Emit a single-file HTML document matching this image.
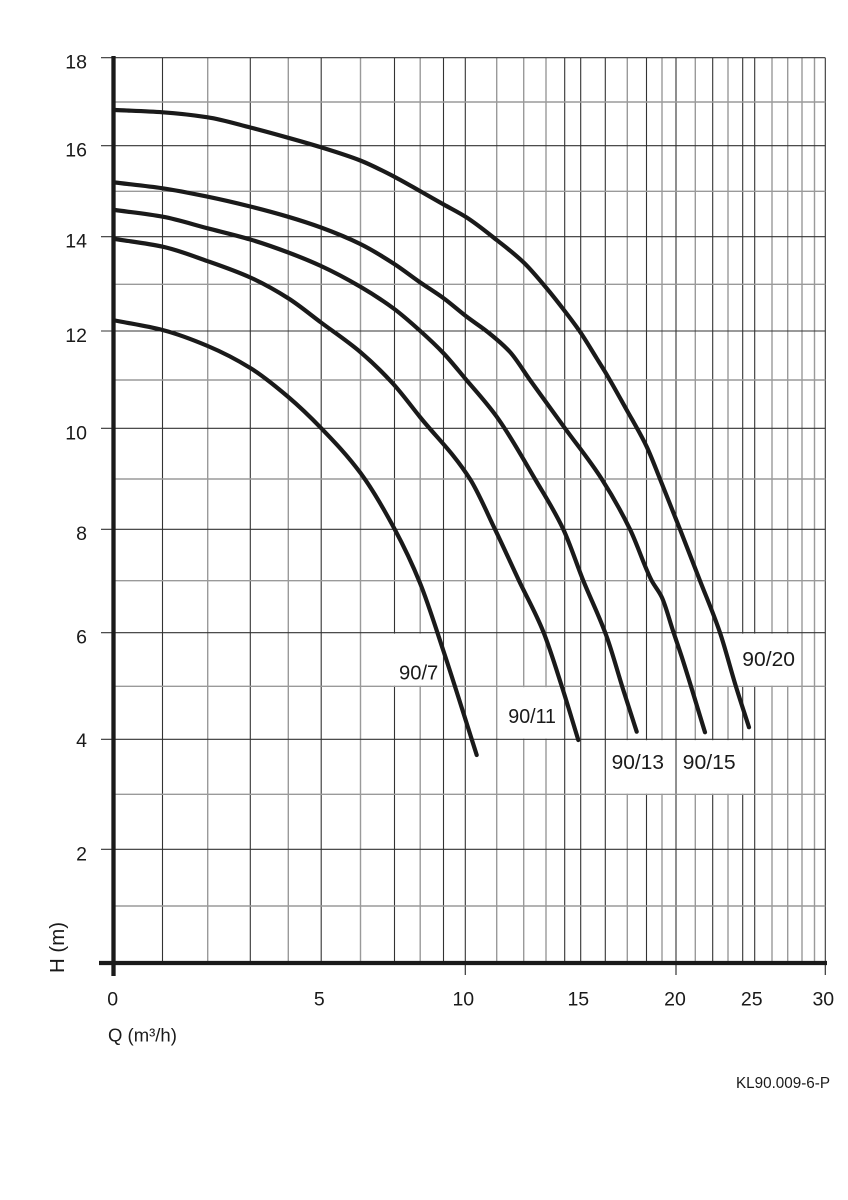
<!DOCTYPE html>
<html>
<head>
<meta charset="utf-8">
<style>
  html, body { margin:0; padding:0; background:#fff; }
  svg { display:block; }
  text { font-family: "Liberation Sans", Arial, sans-serif; fill:#1a1a1a; }
</style>
</head>
<body>
<svg id="chart" width="848" height="1200" viewBox="0 0 848 1200" xmlns="http://www.w3.org/2000/svg">
  <rect x="0" y="0" width="848" height="1200" fill="#fff"/>

  <!-- vertical grid lines: gray -->
  <g stroke="#9a9a9a" stroke-width="1.4">
    <line x1="207.7" y1="57.7" x2="207.7" y2="962.7"/>
    <line x1="288.3" y1="57.7" x2="288.3" y2="962.7"/>
    <line x1="360.5" y1="57.7" x2="360.5" y2="962.7"/>
    <line x1="420.2" y1="57.7" x2="420.2" y2="962.7"/>
    <line x1="496.7" y1="57.7" x2="496.7" y2="962.7"/>
    <line x1="523.7" y1="57.7" x2="523.7" y2="962.7"/>
    <line x1="546" y1="57.7" x2="546" y2="962.7"/>
    <line x1="627.3" y1="57.7" x2="627.3" y2="962.7"/>
    <line x1="662" y1="57.7" x2="662" y2="962.7"/>
    <line x1="695.3" y1="57.7" x2="695.3" y2="962.7"/>
    <line x1="728" y1="57.7" x2="728" y2="962.7"/>
    <line x1="772" y1="57.7" x2="772" y2="962.7"/>
    <line x1="787.7" y1="57.7" x2="787.7" y2="962.7"/>
    <line x1="802" y1="57.7" x2="802" y2="962.7"/>
    <line x1="814.5" y1="57.7" x2="814.5" y2="962.7"/>
  </g>
  <!-- vertical grid lines: dark -->
  <g stroke="#333" stroke-width="1.1">
    <line x1="162.5" y1="57.7" x2="162.5" y2="962.7"/>
    <line x1="250.3" y1="57.7" x2="250.3" y2="962.7"/>
    <line x1="321.2" y1="57.7" x2="321.2" y2="962.7"/>
    <line x1="394.5" y1="57.7" x2="394.5" y2="962.7"/>
    <line x1="443.5" y1="57.7" x2="443.5" y2="962.7"/>
    <line x1="465.3" y1="57.7" x2="465.3" y2="962.7"/>
    <line x1="564.7" y1="57.7" x2="564.7" y2="962.7"/>
    <line x1="580.7" y1="57.7" x2="580.7" y2="962.7"/>
    <line x1="605.3" y1="57.7" x2="605.3" y2="962.7"/>
    <line x1="646.5" y1="57.7" x2="646.5" y2="962.7"/>
    <line x1="676" y1="57.7" x2="676" y2="962.7"/>
    <line x1="712.7" y1="57.7" x2="712.7" y2="962.7"/>
    <line x1="742.7" y1="57.7" x2="742.7" y2="962.7"/>
    <line x1="754.7" y1="57.7" x2="754.7" y2="962.7"/>
    <line x1="825.3" y1="57.7" x2="825.3" y2="962.7"/>
  </g>

  <!-- horizontal grid lines: gray (odd values) -->
  <g stroke="#9a9a9a" stroke-width="1.4">
    <line x1="113" y1="102" x2="825.3" y2="102"/>
    <line x1="113" y1="191.3" x2="825.3" y2="191.3"/>
    <line x1="113" y1="284.3" x2="825.3" y2="284.3"/>
    <line x1="113" y1="380" x2="825.3" y2="380"/>
    <line x1="113" y1="479" x2="825.3" y2="479"/>
    <line x1="113" y1="580.7" x2="825.3" y2="580.7"/>
    <line x1="113" y1="686.3" x2="825.3" y2="686.3"/>
    <line x1="113" y1="794.3" x2="825.3" y2="794.3"/>
    <line x1="113" y1="906" x2="825.3" y2="906"/>
  </g>
  <!-- horizontal grid lines: dark (even values) incl. left ticks -->
  <g stroke="#333" stroke-width="1.1">
    <line x1="101" y1="57.7" x2="825.3" y2="57.7"/>
    <line x1="101" y1="145.7" x2="825.3" y2="145.7"/>
    <line x1="101" y1="236.7" x2="825.3" y2="236.7"/>
    <line x1="101" y1="331" x2="825.3" y2="331"/>
    <line x1="101" y1="428.3" x2="825.3" y2="428.3"/>
    <line x1="101" y1="529.3" x2="825.3" y2="529.3"/>
    <line x1="101" y1="632.7" x2="825.3" y2="632.7"/>
    <line x1="101" y1="739.3" x2="825.3" y2="739.3"/>
    <line x1="101" y1="849.3" x2="825.3" y2="849.3"/>
  </g>

  <!-- label background boxes -->
  <g fill="#fff">
    <rect x="391" y="633.6" width="51.5" height="52"/>
    <rect x="499" y="687.2" width="63.5" height="51.4"/>
    <rect x="606.6" y="740.2" width="68.6" height="53.4"/>
    <rect x="677" y="740.2" width="76.8" height="53.4"/>
    <rect x="720" y="633.6" width="79.5" height="52"/>
  </g>

  <!-- x-axis ticks below -->
  <g stroke="#333" stroke-width="1.2">
    <line x1="465.3" y1="962" x2="465.3" y2="975"/>
    <line x1="676" y1="962" x2="676" y2="975"/>
    <line x1="825.3" y1="962" x2="825.3" y2="975"/>
  </g>

  <!-- axes -->
  <line x1="113.5" y1="56" x2="113.5" y2="976" stroke="#1a1a1a" stroke-width="4.3"/>
  <line x1="99" y1="963" x2="827" y2="963" stroke="#1a1a1a" stroke-width="4.2"/>

  <!-- curves -->
  <g id="curves" fill="none" stroke="#1a1a1a" stroke-width="4.2" stroke-linejoin="round" stroke-linecap="round">
    <!-- 90/20 -->
    <polyline class="c" points="115,110 162.7,112.3 207.7,117.3 250.3,127.5 288.3,137.8 321,147.3 360.3,160.5 394.3,176.7 420.3,191.2 443.7,204.5 466.7,217.5 496.7,240 523.7,262.5 546,287.5 564.7,311 580,331.7 596.7,358.3 605,371.7 626.7,410 646.7,446.7 660,479 680,529.3 700,580.7 720,632.7 735.7,685.7 749,727.3"/>
    <!-- 90/15 -->
    <polyline class="c" points="115,182.5 162.7,188.3 207.7,196.7 250.3,206.5 288.3,216.8 321,227.5 360.3,244 394.3,264 420.3,282.5 443.7,298.3 466.7,316.7 488.3,332.5 510,352 530,380 565,428.3 601.7,479 630,529.3 651.7,580.7 661.7,597 673.3,631.7 681.7,656.7 705,732.3"/>
    <!-- 90/13 -->
    <polyline class="c" points="115,210 162.7,216.7 207.7,228.3 250.3,239.5 288.3,252.5 321,266 360.3,286.7 394.3,309 420.3,331 443.3,353 465,378.3 496.7,416.7 535,479 563.3,529.3 583.3,580.7 606.7,636.7 623.3,690 636.7,731.7"/>
    <!-- 90/11 -->
    <polyline class="c" points="115,239 162.7,246.7 207.7,261.2 250.3,277.5 288.3,298.3 321,322.5 360.3,352 393.3,384 420,417 470,479 495,529.3 519,580.7 543.3,631.7 561.7,686 578.3,740"/>
    <!-- 90/7 -->
    <polyline class="c" points="115,320.5 162.5,330 207.7,346 250.3,368 288.3,397 321.3,428.3 360.7,473.3 394.7,529.3 420,583 443.3,650.5 476.7,755"/>
  </g>

  <!-- y tick labels -->
  <g font-size="19.5" text-anchor="end">
    <text x="87" y="68.5">18</text>
    <text x="87" y="156.5">16</text>
    <text x="87" y="247.5">14</text>
    <text x="87" y="341.8">12</text>
    <text x="87" y="439.5">10</text>
    <text x="87" y="540">8</text>
    <text x="87" y="643.5">6</text>
    <text x="87" y="747">4</text>
    <text x="87" y="860.3">2</text>
  </g>

  <!-- x tick labels -->
  <g font-size="19.5" text-anchor="middle">
    <text x="112.7" y="1005.5">0</text>
    <text x="319.3" y="1005.5">5</text>
    <text x="463.3" y="1005.5">10</text>
    <text x="578.3" y="1005.5">15</text>
    <text x="675" y="1005.5">20</text>
    <text x="751.7" y="1005.5">25</text>
    <text x="823.3" y="1005.5">30</text>
  </g>

  <!-- axis titles -->
  <text x="108" y="1041.5" font-size="18.5">Q (m³/h)</text>
  <text transform="translate(64,973) rotate(-90)" font-size="20" textLength="51" lengthAdjust="spacingAndGlyphs">H (m)</text>

  <!-- curve labels -->
  <g font-size="20">
    <text x="399" y="679.5" textLength="39.3" lengthAdjust="spacingAndGlyphs">90/7</text>
    <text x="508.3" y="723" textLength="47.7" lengthAdjust="spacingAndGlyphs">90/11</text>
    <text x="611.7" y="769" textLength="52.3" lengthAdjust="spacingAndGlyphs">90/13</text>
    <text x="682.7" y="769" textLength="53" lengthAdjust="spacingAndGlyphs">90/15</text>
    <text x="742.3" y="666.2" textLength="52.7" lengthAdjust="spacingAndGlyphs">90/20</text>
  </g>

  <!-- reference code -->
  <text x="736" y="1088.2" font-size="16" textLength="94" lengthAdjust="spacingAndGlyphs">KL90.009-6-P</text>
</svg>
<script>
(function(){
  try {
    var NS = "http://www.w3.org/2000/svg";
    var g = document.getElementById("curves");
    var pls = g.querySelectorAll("polyline.c");
    for (var k = 0; k < pls.length; k++) {
      var pl = pls[k];
      var raw = pl.getAttribute("points").trim().split(/\s+/);
      var x = [], y = [];
      raw.forEach(function(s){ var a = s.split(","); x.push(parseFloat(a[0])); y.push(parseFloat(a[1])); });
      var n = x.length;
      var h = [], dlt = [];
      for (var i = 0; i < n - 1; i++) { h[i] = x[i+1] - x[i]; dlt[i] = (y[i+1] - y[i]) / h[i]; }
      var m = [];
      m[0] = dlt[0]; m[n-1] = dlt[n-2];
      for (var i = 1; i < n - 1; i++) {
        if (dlt[i-1] * dlt[i] <= 0) { m[i] = 0; }
        else {
          var w1 = 2*h[i] + h[i-1], w2 = h[i] + 2*h[i-1];
          m[i] = (w1 + w2) / (w1 / dlt[i-1] + w2 / dlt[i]);
        }
      }
      var d = "M" + x[0] + "," + y[0];
      for (var i = 0; i < n - 1; i++) {
        var c1x = x[i] + h[i]/3, c1y = y[i] + m[i]*h[i]/3;
        var c2x = x[i+1] - h[i]/3, c2y = y[i+1] - m[i+1]*h[i]/3;
        d += " C" + c1x.toFixed(2) + "," + c1y.toFixed(2) + " " + c2x.toFixed(2) + "," + c2y.toFixed(2) + " " + x[i+1] + "," + y[i+1];
      }
      var path = document.createElementNS(NS, "path");
      path.setAttribute("d", d);
      g.insertBefore(path, pl);
      g.removeChild(pl);
    }
  } catch (e) {}
})();
</script>
</body>
</html>
